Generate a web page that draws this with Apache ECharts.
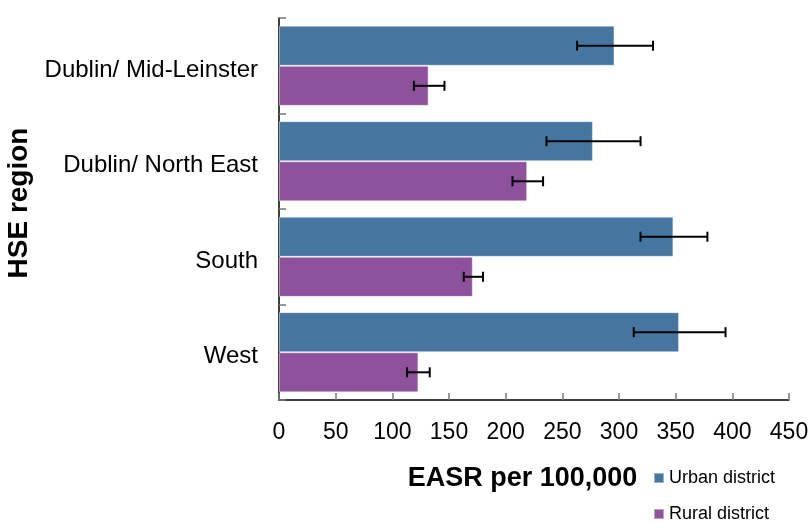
<!DOCTYPE html>
<html>
<head>
<meta charset="utf-8">
<script src="https://cdn.jsdelivr.net/npm/echarts@6/dist/echarts.min.js"></script>
<style>
	html, body { margin: 0; padding: 0; background: #fff; }
	#chart { width: 811px; height: 522px; }
</style>
</head>
<body>
<div id="chart"></div>
<script>
const regions = ["Dublin/ Mid-Leinster", "Dublin/ North East", "South", "West"];

const urban     = [296, 277, 348, 353];
const urbanLow  = [263, 236, 319, 313];
const urbanHigh = [330, 319, 378, 394];

const rural     = [132, 219, 171, 123];
const ruralLow  = [119, 206, 163, 113];
const ruralHigh = [146, 233, 180, 133];

const xMin = 0;
const xMax = 450;
const xStep = 50;

const font = "Liberation Sans, Arial, sans-serif";

// error bar drawn at the centre of one bar within its category band
const errorBars = (offsetRatio) => (params, api) => {
	const cat = api.value(2);
	const lo = api.coord([api.value(0), cat]);
	const hi = api.coord([api.value(1), cat]);
	const band = Math.abs(api.size([0, 1])[1]);
	const y = lo[1] + band * offsetRatio;
	const cap = 5;
	const style = { stroke: "#000", lineWidth: 2 };

	return {
		type     : "group",
		children : [
			{ type: "line", shape: { x1: lo[0], y1: y, x2: hi[0], y2: y }, style },
			{ type: "line", shape: { x1: lo[0], y1: y - cap, x2: lo[0], y2: y + cap }, style },
			{ type: "line", shape: { x1: hi[0], y1: y - cap, x2: hi[0], y2: y + cap }, style },
		],
	};
};

// one legend block per series, stacked like the reference
const legendItem = (name, top) => ({
	data       : [name],
	left       : 653,
	top        : top,
	padding    : 0,
	icon       : "rect",
	itemWidth  : 10,
	itemHeight : 10,
	itemGap    : 5,
	textStyle  : { fontFamily: font, fontSize: 18, color: "#000" },
});

const chart = echarts.init(document.getElementById("chart"));

chart.setOption({
	animation : false,
	textStyle : { fontFamily: font },
	grid      : {
		left            : 279,
		right           : 22,
		top             : 18,
		bottom          : 122,
		outerBoundsMode : "none",
	},
	legend: [
		legendItem("Urban district", 469),
		legendItem("Rural district", 505),
	],
	xAxis: {
		type          : "value",
		min           : xMin,
		max           : xMax,
		interval      : xStep,
		name          : "EASR per 100,000",
		nameLocation  : "middle",
		nameGap       : 65,
		nameTextStyle : {
			fontFamily : font,
			fontSize   : 27,
			fontWeight : "bold",
			color      : "#000",
			padding    : [0, 23, 0, 0],
		},
		splitLine : { show: false },
		axisLine  : { show: true, lineStyle: { color: "#000", width: 1.5 } },
		axisTick  : { show: true, inside: true, length: 7, lineStyle: { color: "#777", width: 1.5 } },
		axisLabel : { fontFamily: font, fontSize: 23, color: "#000", margin: 21 },
	},
	yAxis: {
		type          : "category",
		data          : regions,
		inverse       : true,
		name          : "HSE region",
		nameLocation  : "middle",
		nameRotate    : 90,
		nameGap       : 243,
		nameTextStyle : {
			fontFamily : font,
			fontSize   : 28,
			fontWeight : "bold",
			color      : "#000",
			padding    : [0, 0, 0, 12],
		},
		axisLine  : { show: true, lineStyle: { color: "#000", width: 1.5 } },
		axisTick  : { show: true, inside: true, length: 7, lineStyle: { color: "#777", width: 1.5 } },
		axisLabel : {
			margin    : 21,
			formatter : (v) => `{a|${v}}`,
			rich      : {
				a: { fontFamily: font, fontSize: 24, color: "#000", padding: [9, 0, 0, 0] },
			},
		},
	},
	series: [
		{
			name           : "Urban district",
			type           : "bar",
			data           : urban,
			barGap         : "0%",
			barCategoryGap : "16%",
			itemStyle      : { color: "#4676a0", borderColor: "rgba(255,255,255,0.45)", borderWidth: 1 },
		},
		{
			name           : "Rural district",
			type           : "bar",
			data           : rural,
			barGap         : "0%",
			barCategoryGap : "16%",
			itemStyle      : { color: "#8e529d", borderColor: "rgba(255,255,255,0.45)", borderWidth: 1 },
		},
		{
			name       : "Urban CI",
			type       : "custom",
			z          : 5,
			renderItem : errorBars(-0.21),
			encode     : { x: [0, 1], y: 2 },
			data       : urbanLow.map((lo, i) => [lo, urbanHigh[i], i]),
		},
		{
			name       : "Rural CI",
			type       : "custom",
			z          : 5,
			renderItem : errorBars(0.21),
			encode     : { x: [0, 1], y: 2 },
			data       : ruralLow.map((lo, i) => [lo, ruralHigh[i], i]),
		},
	],
});
</script>
</body>
</html>
